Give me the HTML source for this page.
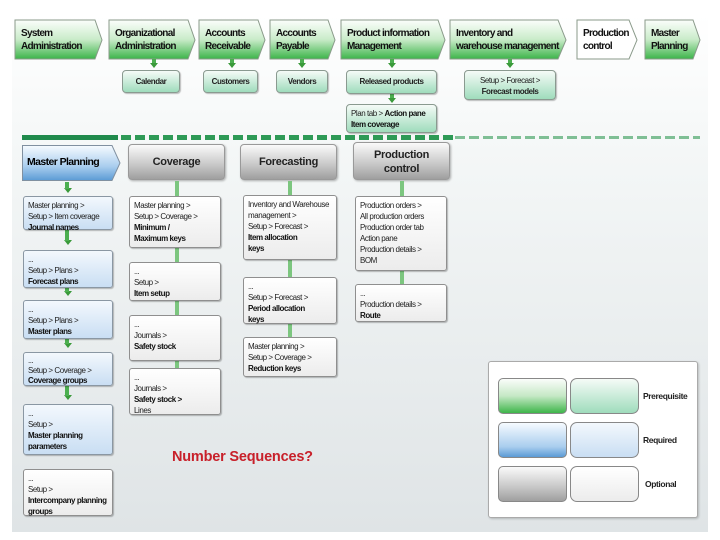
<!DOCTYPE html>
<html><head><meta charset="utf-8"><style>
*{margin:0;padding:0;box-sizing:border-box}
body{width:720px;height:540px;background:#fff;position:relative;overflow:hidden;font-family:"Liberation Sans",sans-serif;}
#panel{position:absolute;left:12px;top:14px;width:696px;height:518px;background:linear-gradient(#ffffff 0%,#f3f6f6 30%,#dfe4e6 100%);}
.a{position:absolute}
.chev{position:absolute;font-size:10px;font-weight:bold;letter-spacing:-0.7px;line-height:13px;padding:7px 0 0 6px;color:#111;white-space:nowrap}
.g{background:linear-gradient(#fafdfa,#c5e8c5 50%,#3eb54a)}
.gl{background:linear-gradient(#f5fbf7,#9fdcbc);border:1px solid #8a9a90;border-radius:4px}
.b{background:linear-gradient(#f6fbff,#a9cdee 70%,#5b9bd5)}
.bl{background:linear-gradient(#f3f8fd,#c9def3);border:1px solid #8a97a3;border-radius:3px}
.gr{background:linear-gradient(#fafafa,#c6c6c6 60%,#9f9f9f)}
.w{background:linear-gradient(#ffffff,#ececec);border:1px solid #8f8f8f;border-radius:3px}
.box{position:absolute;font-size:8px;line-height:11px;letter-spacing:-0.45px;padding:3px 4px;color:#222;box-shadow:1px 1px 1px rgba(0,0,0,.25);white-space:nowrap}
.box b{font-weight:bold;color:#111}
.sub{position:absolute;font-size:8px;font-weight:bold;letter-spacing:-0.45px;text-align:center;color:#222;box-shadow:1px 1px 1px rgba(0,0,0,.25);white-space:nowrap}
.ar{position:absolute;width:0;height:0;border-left:4px solid transparent;border-right:4px solid transparent;border-top:5px solid #3a9a3a}
.st{position:absolute;width:4px;background:#4caf50}
.hd{position:absolute;font-size:11px;font-weight:bold;letter-spacing:-0.3px;text-align:center;color:#222;border:1px solid #999;border-radius:4px;box-shadow:1px 1px 2px rgba(0,0,0,.3)}
.leg{position:absolute;width:69px;height:36px;border:1px solid #888;border-radius:5px}
.lt{position:absolute;font-size:8.5px;font-weight:bold;letter-spacing:-0.4px;color:#222}
</style></head><body>
<div id="panel"></div>
<svg class="a" style="left:0;top:0" width="720" height="140">
<defs>
<linearGradient id="gg" x1="0" y1="0" x2="0" y2="1"><stop offset="0" stop-color="#fbfefb"/><stop offset="0.5" stop-color="#c9ebc9"/><stop offset="1" stop-color="#3cb449"/></linearGradient>
</defs>
<g stroke="#8a9a8a" stroke-width="1" fill="url(#gg)">
<polygon points="15,20 95,20 102,40 95,59 15,59"/>
<polygon points="109,20 188,20 195,40 188,59 109,59"/>
<polygon points="199,20 258,20 265,40 258,59 199,59"/>
<polygon points="270,20 328,20 335,40 328,59 270,59"/>
<polygon points="341,20 438,20 445,40 438,59 341,59"/>
<polygon points="450,20 558,20 566,40 558,59 450,59"/>
<polygon points="577,20 629,20 637,40 629,59 577,59" fill="#fff"/>
<polygon points="645,20 693,20 700,40 693,59 645,59"/>
</g>
<rect x="22" y="135" width="96" height="5" fill="#1f8a4c"/>
<line x1="121" y1="137.5" x2="455" y2="137.5" stroke="#2e9a56" stroke-width="5" stroke-dasharray="10,4"/>
<line x1="455" y1="137.5" x2="700" y2="137.5" stroke="#7fbf95" stroke-width="3" stroke-dasharray="10,4"/>
</svg>
<div class="chev" style="left:15px;top:20px">System<br>Administration</div>
<div class="chev" style="left:109px;top:20px">Organizational<br>Administration</div>
<div class="chev" style="left:199px;top:20px">Accounts<br>Receivable</div>
<div class="chev" style="left:270px;top:20px">Accounts<br>Payable</div>
<div class="chev" style="left:341px;top:20px">Product information<br>Management</div>
<div class="chev" style="left:450px;top:20px">Inventory and<br>warehouse management</div>
<div class="chev" style="left:577px;top:20px">Production<br>control</div>
<div class="chev" style="left:645px;top:20px">Master<br>Planning</div>

<div class="st" style="left:152px;top:59px;height:4px"></div>
<div class="st" style="left:230px;top:59px;height:4px"></div>
<div class="st" style="left:300px;top:59px;height:4px"></div>
<div class="st" style="left:390px;top:59px;height:4px"></div>
<div class="st" style="left:508px;top:59px;height:4px"></div>
<div class="st" style="left:390px;top:94px;height:4px"></div>
<div class="ar" style="left:150px;top:63px"></div>
<div class="ar" style="left:228px;top:63px"></div>
<div class="ar" style="left:298px;top:63px"></div>
<div class="ar" style="left:388px;top:63px"></div>
<div class="ar" style="left:506px;top:63px"></div>
<div class="ar" style="left:388px;top:98px"></div>

<div class="sub gl" style="left:122px;top:70px;width:58px;height:23px;line-height:21px">Calendar</div>
<div class="sub gl" style="left:203px;top:70px;width:55px;height:23px;line-height:21px">Customers</div>
<div class="sub gl" style="left:276px;top:70px;width:52px;height:23px;line-height:21px">Vendors</div>
<div class="sub gl" style="left:346px;top:70px;width:91px;height:24px;line-height:22px">Released products</div>
<div class="sub gl" style="left:464px;top:70px;width:92px;height:30px;line-height:11px;padding-top:4px;font-weight:normal">Setup &gt; Forecast &gt;<br><b>Forecast models</b></div>
<div class="box gl" style="left:346px;top:104px;width:91px;height:29px;line-height:11px">Plan tab &gt; <b>Action pane<br>Item coverage</b></div>

<svg class="a" style="left:22px;top:145px" width="100" height="36"><defs><linearGradient id="bg" x1="0" y1="0" x2="0" y2="1"><stop offset="0" stop-color="#f6fbff"/><stop offset="0.6" stop-color="#a9cdee"/><stop offset="1" stop-color="#5b9bd5"/></linearGradient></defs><polygon points="0.5,0.5 90,0.5 98,18 90,35.5 0.5,35.5" fill="url(#bg)" stroke="#8090a0"/></svg>
<div class="a" style="left:27px;top:156px;font-size:10.5px;font-weight:bold;letter-spacing:-0.6px">Master Planning</div>
<div class="hd gr" style="left:128px;top:144px;width:97px;height:36px;line-height:34px">Coverage</div>
<div class="hd gr" style="left:240px;top:144px;width:97px;height:36px;line-height:34px">Forecasting</div>
<div class="hd gr" style="left:353px;top:142px;width:97px;height:38px;line-height:14px;padding-top:5px">Production<br>control</div>

<div class="ar" style="left:64px;top:188px"></div>
<div class="ar" style="left:64px;top:240px"></div>
<div class="ar" style="left:64px;top:291px"></div>
<div class="ar" style="left:64px;top:343px"></div>
<div class="ar" style="left:64px;top:395px"></div>
<div class="st" style="left:65px;top:182px;height:7px"></div>
<div class="st" style="left:65px;top:230px;height:11px"></div>
<div class="st" style="left:65px;top:288px;height:4px"></div>
<div class="st" style="left:65px;top:339px;height:5px"></div>
<div class="st" style="left:65px;top:386px;height:10px"></div>

<div class="st" style="left:175px;top:181px;height:16px;background:#7cc67f"></div>
<div class="st" style="left:175px;top:248px;height:14px;background:#7cc67f"></div>
<div class="st" style="left:175px;top:301px;height:14px;background:#7cc67f"></div>
<div class="st" style="left:175px;top:361px;height:8px;background:#7cc67f"></div>
<div class="st" style="left:288px;top:181px;height:14px;background:#7cc67f"></div>
<div class="st" style="left:288px;top:260px;height:17px;background:#7cc67f"></div>
<div class="st" style="left:288px;top:324px;height:13px;background:#7cc67f"></div>
<div class="st" style="left:400px;top:181px;height:15px;background:#7cc67f"></div>
<div class="st" style="left:400px;top:271px;height:13px;background:#7cc67f"></div>

<div class="box bl" style="left:23px;top:196px;width:90px;height:34px">Master planning &gt;<br>Setup &gt; Item coverage<br><b>Journal names</b></div>
<div class="box bl" style="left:23px;top:250px;width:90px;height:38px">...<br>Setup &gt; Plans &gt;<br><b>Forecast plans</b></div>
<div class="box bl" style="left:23px;top:300px;width:90px;height:39px">...<br>Setup &gt; Plans &gt;<br><b>Master plans</b></div>
<div class="box bl" style="left:23px;top:352px;width:90px;height:34px;line-height:10px">...<br>Setup &gt; Coverage &gt;<br><b>Coverage groups</b></div>
<div class="box bl" style="left:23px;top:404px;width:90px;height:51px">...<br>Setup &gt;<br><b>Master planning<br>parameters</b></div>
<div class="box w" style="left:23px;top:469px;width:90px;height:47px">...<br>Setup &gt;<br><b>Intercompany planning<br>groups</b></div>

<div class="box w" style="left:129px;top:196px;width:92px;height:52px">Master planning &gt;<br>Setup &gt; Coverage &gt;<br><b>Minimum /<br>Maximum keys</b></div>
<div class="box w" style="left:129px;top:262px;width:92px;height:39px">...<br>Setup &gt;<br><b>Item setup</b></div>
<div class="box w" style="left:129px;top:315px;width:92px;height:46px">...<br>Journals &gt;<br><b>Safety stock</b></div>
<div class="box w" style="left:129px;top:368px;width:92px;height:47px">...<br>Journals &gt;<br><b>Safety stock &gt;</b><br>Lines</div>

<div class="box w" style="left:243px;top:195px;width:94px;height:65px">Inventory and Warehouse<br>management &gt;<br>Setup &gt; Forecast &gt;<br><b>Item allocation<br>keys</b></div>
<div class="box w" style="left:243px;top:277px;width:94px;height:47px">...<br>Setup &gt; Forecast &gt;<br><b>Period allocation<br>keys</b></div>
<div class="box w" style="left:243px;top:337px;width:94px;height:40px">Master planning &gt;<br>Setup &gt; Coverage &gt;<br><b>Reduction keys</b></div>

<div class="box w" style="left:355px;top:196px;width:92px;height:75px">Production orders &gt;<br>All production orders<br>Production order tab<br>Action pane<br>Production details &gt;<br>BOM</div>
<div class="box w" style="left:355px;top:284px;width:92px;height:38px">...<br>Production details &gt;<br><b>Route</b></div>

<div class="a" style="left:172px;top:449px;font-size:14.5px;font-weight:bold;color:#c8202a;letter-spacing:-0.2px">Number Sequences?</div>

<div class="a" style="left:488px;top:361px;width:210px;height:157px;background:#fff;border:1px solid #aaa;border-radius:3px;box-shadow:1px 1px 2px rgba(0,0,0,.2)"></div>
<div class="leg g" style="left:498px;top:378px"></div>
<div class="leg gl" style="left:570px;top:378px;border-radius:7px"></div>
<div class="leg b" style="left:498px;top:422px"></div>
<div class="leg bl" style="left:570px;top:422px;border-radius:7px"></div>
<div class="leg gr" style="left:498px;top:466px"></div>
<div class="leg w" style="left:570px;top:466px;border-radius:7px"></div>
<div class="lt" style="left:643px;top:391px">Prerequisite</div>
<div class="lt" style="left:643px;top:435px">Required</div>
<div class="lt" style="left:645px;top:479px">Optional</div>
</body></html>
